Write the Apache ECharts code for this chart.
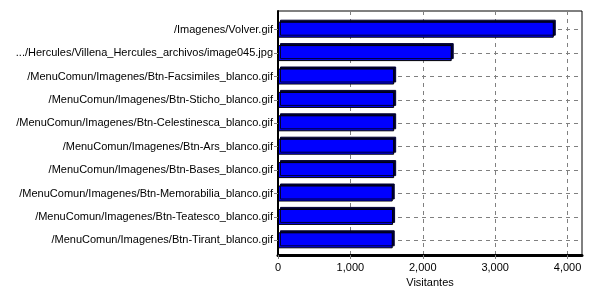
<!DOCTYPE html>
<html><head><meta charset="utf-8">
<script src="https://cdn.jsdelivr.net/npm/echarts@6/dist/echarts.min.js"></script>
<style>html,body{margin:0;padding:0;background:#fff}#c{width:600px;height:300px}</style>
</head><body><div id="c"></div>
<script>
var categories = [
  "/Imagenes/Volver.gif",
  ".../Hercules/Villena_Hercules_archivos/image045.jpg",
  "/MenuComun/Imagenes/Btn-Facsimiles_blanco.gif",
  "/MenuComun/Imagenes/Btn-Sticho_blanco.gif",
  "/MenuComun/Imagenes/Btn-Celestinesca_blanco.gif",
  "/MenuComun/Imagenes/Btn-Ars_blanco.gif",
  "/MenuComun/Imagenes/Btn-Bases_blanco.gif",
  "/MenuComun/Imagenes/Btn-Memorabilia_blanco.gif",
  "/MenuComun/Imagenes/Btn-Teatesco_blanco.gif",
  "/MenuComun/Imagenes/Btn-Tirant_blanco.gif"
];
var visitantes = [3810, 2400, 1605, 1605, 1605, 1605, 1605, 1585, 1590, 1585];
var xTicks = [0, 1000, 2000, 3000, 4000];

var chart = echarts.init(document.getElementById('c'), null, {renderer: 'canvas'});
var font = 'Liberation Sans';
var grey = '#808080';
chart.setOption({
  animation: false,
  grid: [
    {left: 278, right: 18, top: 11, bottom: 45, show: true, borderColor: '#000', borderWidth: 1},
    {left: 278, right: 18, top: 18, bottom: 48, show: false}
  ],
  xAxis: [{
    gridIndex: 0, type: 'value', min: 0, max: 4200, interval: 1000,
    name: 'Visitantes', nameLocation: 'middle', nameGap: 21,
    nameTextStyle: {color: '#000', fontFamily: font, fontSize: 11},
    axisLine: {show: true, lineStyle: {color: '#000', width: 3}},
    axisTick: {show: true, length: 4, lineStyle: {color: grey}},
    axisLabel: {color: '#000', fontFamily: font, fontSize: 11, margin: 7, showMaxLabel: false,
      formatter: function (v) { return xTicks.indexOf(v) >= 0 ? v.toLocaleString('en-US') : ''; }},
    splitLine: {show: true, lineStyle: {color: grey, type: [4, 4], width: 1}}
  }, {
    gridIndex: 1, type: 'value', min: 0, max: 4200, interval: 1000, show: false,
    splitLine: {show: false}
  }],
  yAxis: [{
    gridIndex: 0, type: 'value', min: 0, max: 1, show: true,
    axisLine: {show: true, lineStyle: {color: '#000', width: 2}},
    axisTick: {show: false}, axisLabel: {show: false}, splitLine: {show: false}
  }, {
    gridIndex: 1, type: 'category', data: categories, inverse: true,
    axisLine: {show: false},
    axisTick: {show: true, length: 4, alignWithLabel: true, lineStyle: {color: grey}},
    axisLabel: {color: '#000', fontFamily: font, fontSize: 11, margin: 5},
    splitLine: {show: true, alignWithLabel: true, lineStyle: {color: grey, type: [4, 4], width: 1}}
  }],
  series: [{
    type: 'bar', xAxisIndex: 1, yAxisIndex: 1, data: visitantes, barWidth: 16,
    itemStyle: {color: '#0000ff', borderColor: '#000', borderWidth: 1,
      shadowColor: '#000033', shadowOffsetX: 2, shadowOffsetY: -2, shadowBlur: 0}
  }]
});
</script></body></html>
